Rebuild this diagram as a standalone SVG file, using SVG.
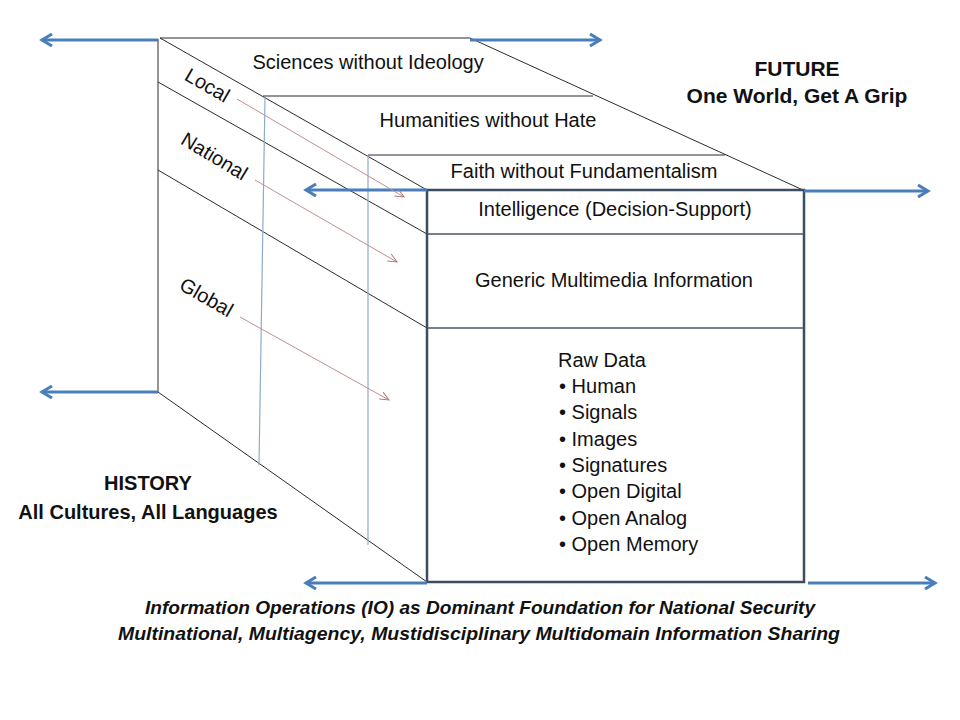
<svg xmlns="http://www.w3.org/2000/svg" width="960" height="720" viewBox="0 0 960 720">
<defs>
<marker id="blueHead" markerWidth="14" markerHeight="14" refX="11" refY="7" orient="auto" markerUnits="userSpaceOnUse">
<path d="M1,1 L11,7 L1,13" fill="none" stroke="#4a7ebb" stroke-width="3" stroke-linejoin="miter"/>
</marker>
<marker id="redHead" markerWidth="12" markerHeight="10" refX="10" refY="5" orient="auto" markerUnits="userSpaceOnUse">
<path d="M1,1 L10,5 L1,9" fill="none" stroke="#b07a7a" stroke-width="1"/>
</marker>
</defs>
<style>
text{font-family:"Liberation Sans",Arial,sans-serif;fill:#111;}
.lbl{font-size:20px;}
.bold{font-size:20px;font-weight:bold;}
.ital{font-size:18px;font-weight:bold;font-style:italic;}
.edge{stroke:#2b2b2b;stroke-width:1;fill:none;}
.vert{stroke:#8eaacc;stroke-width:1.2;fill:none;}
.front{stroke:#3d4d60;stroke-width:2.5;fill:none;}
.inner{stroke:#4a5563;stroke-width:1.6;fill:none;}
.blue{stroke:#4a7ebb;stroke-width:3;fill:none;marker-end:url(#blueHead);}
.red{stroke:#c09090;stroke-width:1;fill:none;marker-end:url(#redHead);}
</style>
<rect width="960" height="720" fill="#ffffff"/>

<g id="cube">
<line class="edge" x1="158" y1="39" x2="158" y2="392"/>
<line class="edge" x1="160" y1="38" x2="470" y2="38"/>
<line class="edge" x1="470" y1="38" x2="803" y2="190"/>
<line class="edge" x1="263" y1="96" x2="593" y2="96"/>
<line class="edge" x1="368" y1="155" x2="725" y2="155"/>
<line class="edge" x1="160" y1="38" x2="427" y2="190"/>
<line class="edge" x1="158" y1="82" x2="427" y2="234"/>
<line class="edge" x1="158" y1="170" x2="427" y2="328"/>
<line class="edge" x1="158" y1="392" x2="427" y2="582"/>
<line class="vert" x1="265" y1="97" x2="259" y2="465"/>
<line class="vert" x1="368" y1="155" x2="368" y2="545"/>
</g>

<g id="front-box">
<rect class="front" x="427" y="190" width="377" height="392"/>
<line class="inner" x1="427" y1="234" x2="804" y2="234"/>
<line class="inner" x1="427" y1="328" x2="804" y2="328"/>
</g>

<g id="layer-sciences"><text class="lbl" x="368" y="69" text-anchor="middle">Sciences without Ideology</text></g>
<g id="layer-humanities"><text class="lbl" x="488" y="127" text-anchor="middle">Humanities without Hate</text></g>
<g id="layer-faith"><text class="lbl" x="584" y="178" text-anchor="middle">Faith without Fundamentalism</text></g>
<g id="box-intelligence"><text class="lbl" x="615" y="216" text-anchor="middle">Intelligence (Decision-Support)</text></g>
<g id="box-generic"><text class="lbl" x="614" y="287" text-anchor="middle">Generic Multimedia Information</text></g>
<g id="box-raw">
<text class="lbl" x="558" y="367">Raw Data</text>
<text class="lbl" x="559" y="393">• Human</text>
<text class="lbl" x="559" y="419">• Signals</text>
<text class="lbl" x="559" y="446">• Images</text>
<text class="lbl" x="559" y="472">• Signatures</text>
<text class="lbl" x="559" y="498">• Open Digital</text>
<text class="lbl" x="559" y="525">• Open Analog</text>
<text class="lbl" x="559" y="551">• Open Memory</text>
</g>

<g id="label-local"><text class="lbl" transform="translate(207,86) rotate(30)" x="0" y="6" text-anchor="middle">Local</text></g>
<g id="label-national"><text class="lbl" transform="translate(214,157) rotate(31)" x="0" y="6" text-anchor="middle">National</text></g>
<g id="label-global"><text class="lbl" transform="translate(206,298) rotate(30)" x="0" y="6" text-anchor="middle">Global</text></g>

<g id="future"><text class="bold" x="797" y="76" text-anchor="middle" style="font-size:21px">FUTURE</text>
<text class="bold" x="797" y="103" text-anchor="middle" style="font-size:21px">One World, Get A Grip</text></g>
<g id="history"><text class="bold" x="148" y="490" text-anchor="middle">HISTORY</text>
<text class="bold" x="148" y="519" text-anchor="middle">All Cultures, All Languages</text></g>
<g id="footer">
<text class="ital" x="480" y="614" text-anchor="middle" textLength="670" lengthAdjust="spacingAndGlyphs">Information Operations (IO) as Dominant Foundation for National Security</text>
<text class="ital" x="479" y="640" text-anchor="middle" textLength="722" lengthAdjust="spacingAndGlyphs">Multinational, Multiagency, Mustidisciplinary Multidomain Information Sharing</text>
</g>

<g id="connectors">
<line class="blue" x1="158" y1="40" x2="42" y2="40"/>
<line class="blue" x1="470" y1="40" x2="600" y2="40"/>
<line class="blue" x1="158" y1="392" x2="42" y2="392"/>
<line class="blue" x1="427" y1="190" x2="306" y2="190"/>
<line class="blue" x1="804" y1="191" x2="928" y2="191"/>
<line class="blue" x1="427" y1="583" x2="306" y2="583"/>
<line class="blue" x1="808" y1="583" x2="935" y2="583"/>
<line class="red" x1="237" y1="99" x2="404" y2="197"/>
<line class="red" x1="255" y1="180" x2="397" y2="262"/>
<line class="red" x1="240" y1="317" x2="389" y2="400"/>
</g>
</svg>
